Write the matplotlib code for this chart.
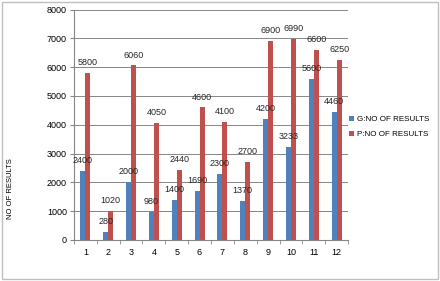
import numpy as np
import matplotlib.pyplot as plt
from matplotlib.patches import Rectangle

categories = [str(i) for i in range(1, 13)]
g_vals = [2400, 280, 2000, 980, 1400, 1690, 2300, 1370, 4200, 3233, 5600, 4460]
p_vals = [5800, 1020, 6060, 4050, 2440, 4600, 4100, 2700, 6900, 6990, 6600, 6250]
series_names = ['G:NO OF RESULTS', 'P:NO OF RESULTS']

plt.rcParams['font.family'] = ['Liberation Sans', 'DejaVu Sans']

fig = plt.figure(figsize=(4.4, 2.81), dpi=100)
# chart-area border
fig.patches.append(Rectangle((0.005, 0.008), 0.99, 0.985, transform=fig.transFigure,
                             fill=False, edgecolor='#bfbfbf', linewidth=1))
ax = fig.add_axes([0.168, 0.146, 0.623, 0.82])

x = np.arange(len(categories))
w = 0.22
b1 = ax.bar(x - w/2, g_vals, w, color='#4f81bd', label=series_names[0], zorder=3)
b2 = ax.bar(x + w/2, p_vals, w, color='#c0504d', label=series_names[1], zorder=3)

for bars, vals in [(b1, g_vals), (b2, p_vals)]:
    for r, v in zip(bars, vals):
        ax.annotate(str(v), (r.get_x() + r.get_width()/2, v), xytext=(0, 7.5),
                    textcoords='offset points', ha='center', va='center',
                    fontsize=6.5, color='#262626', zorder=4)

ax.set_xlim(-0.5, 11.5)
ax.set_ylim(0, 8000)
ax.set_yticks(range(0, 8001, 1000))
ax.set_xticks(x)
ax.set_xticklabels(categories)
ax.set_xticks(np.arange(-0.5, 12, 1), minor=True)
ax.tick_params(axis='x', which='major', length=0, labelsize=6.5, pad=6)
ax.tick_params(axis='x', which='minor', length=3, color='#868686')
ax.tick_params(axis='y', length=3, color='#868686', labelsize=6.5, pad=2)
ax.grid(axis='y', color='#868686', linewidth=0.7, zorder=0)
for s in ['top', 'right']:
    ax.spines[s].set_visible(False)
ax.spines['left'].set_color('#868686')
ax.spines['bottom'].set_color('#868686')

fig.text(0.025, 0.33, 'NO OF RESULTS', rotation=90, ha='center', va='center',
         fontsize=5.5, family=['Liberation Sans Narrow', 'Liberation Sans'])

ax.legend(loc='center left', bbox_to_anchor=(0.985, 0.49), frameon=False,
          fontsize=5.8, handlelength=0.6, handleheight=0.6, handletextpad=0.4,
          labelspacing=1.0, borderaxespad=0.2)

fig.savefig('out.png', dpi=100)
